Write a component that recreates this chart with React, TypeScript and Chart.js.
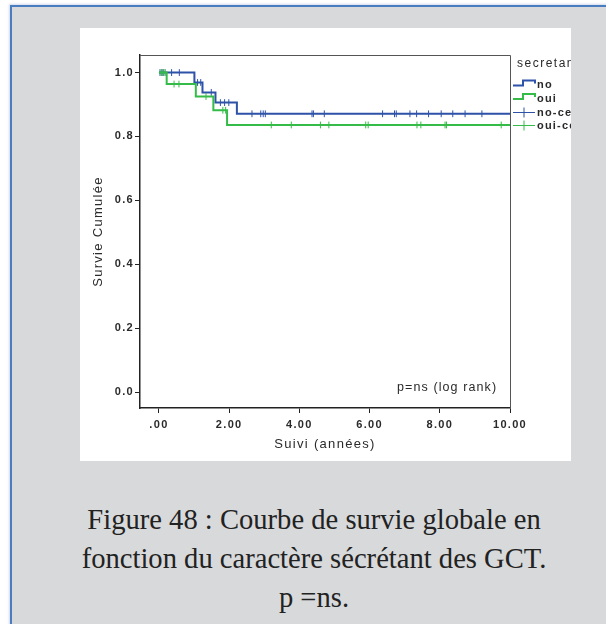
import React, { useEffect, useRef } from "react";
import { Chart, registerables } from "chart.js";

Chart.register(...registerables);

// ---- data ----
const xTickValues = [0, 2, 4, 6, 8, 10];
const xTickLabels = [".00", "2.00", "4.00", "6.00", "8.00", "10.00"];
const yTickValues = [0, 0.2, 0.4, 0.6, 0.8, 1.0];
const yTickLabels = ["0.0", "0.2", "0.4", "0.6", "0.8", "1.0"];

const noEventTimes = [0, 1.01, 1.24, 1.61, 2.22];
const noSurvival = [1.0, 0.969, 0.938, 0.906, 0.871];
const ouiEventTimes = [0, 0.22, 1.05, 1.55, 1.94];
const ouiSurvival = [1.0, 0.964, 0.925, 0.882, 0.836];

const noCensorTimes = [
  0.03, 0.09, 0.14, 0.36, 0.58, 1.1, 1.19, 1.49, 1.75, 1.87, 1.99, 2.65, 2.9,
  2.97, 3.03, 4.36, 4.4, 4.71, 6.37, 6.71, 6.76, 7.15, 7.34, 7.68, 8.04, 8.37,
  8.72, 9.2,
];
const ouiCensorTimes = [
  0.07, 0.12, 0.18, 0.43, 0.57, 1.34, 1.82, 1.9, 3.2, 3.77, 4.6, 4.84, 5.89,
  5.96, 7.35, 7.46, 8.15, 8.19, 9.75,
];
const followUpEnd = 10;

const legendTitle = "secretant";
const legendLabels = ["no", "oui", "no-censuré", "oui-censuré"];
const annotationText = "p=ns (log rank)";
const xTitle = "Suivi (années)";
const yTitle = "Survie Cumulée";
const captionLines = [
  "Figure 48 : Courbe de survie globale en",
  "fonction du caractère sécrétant des GCT.",
  "p =ns.",
];

// ---- styles ----
const BLUE = "#2d52a8";
const GREEN = "#35bb48";
const TEXT = "#2a2a2a";
const FONT = "'Liberation Sans', Arial, sans-serif";

function survivalAt(times: number[], surv: number[], t: number) {
  let s = surv[0];
  for (let i = 0; i < times.length; i++) if (times[i] <= t) s = surv[i];
  return s;
}

function stepData(times: number[], surv: number[]) {
  const pts = times.map((t, i) => ({ x: t, y: surv[i] }));
  pts.push({ x: followUpEnd, y: surv[surv.length - 1] });
  return pts;
}

function censorData(cens: number[], times: number[], surv: number[]) {
  return cens.map((t) => ({ x: t, y: survivalAt(times, surv, t) }));
}

const decorPlugin = {
  id: "decor",
  beforeDraw(chart: any) {
    chart.ctx.letterSpacing = "1.3px";
  },
  afterDraw(chart: any) {
    const { ctx, chartArea: a } = chart;
    ctx.save();
    // frame top & right
    ctx.strokeStyle = "#555";
    ctx.lineWidth = 1;
    ctx.beginPath();
    ctx.moveTo(a.left, a.top + 0.5);
    ctx.lineTo(a.right + 0.5, a.top + 0.5);
    ctx.lineTo(a.right + 0.5, a.bottom);
    ctx.stroke();

    // annotation
    ctx.letterSpacing = "1.1px";
    ctx.font = `12.5px ${FONT}`;
    ctx.fillStyle = TEXT;
    ctx.textBaseline = "middle";
    ctx.textAlign = "left";
    ctx.fillText(annotationText, a.left + 257, a.bottom - 20);

    // legend
    const x0 = a.right + 3;
    ctx.letterSpacing = "1.5px";
    ctx.font = `12px ${FONT}`;
    ctx.fillText(legendTitle, x0 + 4, a.top + 9);
    ctx.letterSpacing = "1.2px";
    ctx.font = `bold 11px ${FONT}`;
    const rows = [a.top + 29.5, a.top + 43, a.top + 57.5, a.top + 70.5];
    const cols = [BLUE, GREEN, BLUE, GREEN];
    rows.forEach((y, i) => {
      ctx.strokeStyle = cols[i];
      if (i < 2) {
        ctx.lineWidth = 2;
        ctx.beginPath();
        ctx.moveTo(x0, y + 1);
        ctx.lineTo(x0 + 10, y + 1);
        ctx.lineTo(x0 + 10, y - 4);
        ctx.lineTo(x0 + 22, y - 4);
        ctx.lineTo(x0 + 22, y - 1);
        ctx.stroke();
      } else {
        ctx.lineWidth = 1;
        ctx.beginPath();
        ctx.moveTo(x0, y);
        ctx.lineTo(x0 + 22, y);
        ctx.moveTo(x0 + 11, y - 5);
        ctx.lineTo(x0 + 11, y + 5);
        ctx.stroke();
      }
      ctx.fillStyle = TEXT;
      ctx.fillText(legendLabels[i], x0 + 24, y + 0.5);
    });
    ctx.restore();
  },
};

function KMChart() {
  const ref = useRef<HTMLCanvasElement | null>(null);
  useEffect(() => {
    if (!ref.current) return;
    const tickFont = { family: FONT, size: 11, weight: "bold" as const };
    const chart = new Chart(ref.current, {
      type: "line",
      data: {
        datasets: [
          {
            label: legendLabels[1],
            data: stepData(ouiEventTimes, ouiSurvival),
            stepped: true,
            borderColor: GREEN,
            borderWidth: 2,
            pointRadius: 0,
            fill: false,
          },
          {
            label: legendLabels[3],
            data: censorData(ouiCensorTimes, ouiEventTimes, ouiSurvival),
            showLine: false,
            pointStyle: "line",
            rotation: 90,
            pointRadius: 3.4,
            borderColor: GREEN,
            pointBorderWidth: 1,
            borderWidth: 1,
          },
          {
            label: legendLabels[0],
            data: stepData(noEventTimes, noSurvival),
            stepped: true,
            borderColor: BLUE,
            borderWidth: 2,
            pointRadius: 0,
            fill: false,
          },
          {
            label: legendLabels[2],
            data: censorData(noCensorTimes, noEventTimes, noSurvival),
            showLine: false,
            pointStyle: "line",
            rotation: 90,
            pointRadius: 3.4,
            borderColor: BLUE,
            pointBorderWidth: 1,
            borderWidth: 1,
          },
        ],
      },
      options: {
        responsive: false,
        animation: false,
        devicePixelRatio: 1,
        layout: { padding: { top: 27, right: 61, left: 0, bottom: 0 } },
        plugins: { legend: { display: false }, tooltip: { enabled: false } },
        scales: {
          x: {
            type: "linear",
            min: -0.54,
            max: 10,
            afterBuildTicks: (s: any) => {
              s.ticks = xTickValues.map((v) => ({ value: v }));
            },
            afterFit: (s: any) => {
              s.height = 53;
            },
            ticks: {
              autoSkip: false,
              maxRotation: 0,
              padding: 5,
              color: TEXT,
              font: tickFont,
              callback: (_v: any, i: number) => xTickLabels[i],
            },
            grid: {
              drawOnChartArea: false,
              drawTicks: true,
              tickLength: 5,
              color: "#222",
              lineWidth: 1,
            },
            border: { display: true, color: "#222", width: 1.5 },
            title: {
              display: true,
              text: xTitle,
              color: TEXT,
              font: { family: FONT, size: 13 },
              padding: { top: 0, bottom: 9 },
            },
          },
          y: {
            type: "linear",
            min: -0.05,
            max: 1.055,
            afterBuildTicks: (s: any) => {
              s.ticks = yTickValues.map((v) => ({ value: v }));
            },
            afterFit: (s: any) => {
              s.width = 60;
            },
            ticks: {
              autoSkip: false,
              padding: 1,
              color: TEXT,
              font: tickFont,
              callback: (_v: any, i: number) => yTickLabels[i],
            },
            grid: {
              drawOnChartArea: false,
              drawTicks: true,
              tickLength: 5,
              color: "#222",
              lineWidth: 1,
            },
            border: { display: true, color: "#222", width: 1.5 },
            title: {
              display: true,
              text: yTitle,
              color: TEXT,
              font: { family: FONT, size: 13 },
              padding: { top: 11, bottom: 0 },
            },
          },
        },
      },
      plugins: [decorPlugin],
    } as any);
    return () => chart.destroy();
  }, []);
  return <canvas ref={ref} width={491} height={433} style={{ display: "block" }} />;
}

export default function App() {
  return (
    <div
      style={{
        position: "absolute",
        left: 0,
        top: 0,
        width: 606,
        height: 624,
        overflow: "hidden",
        background: "#ffffff",
      }}
    >
      <div
        style={{
          position: "absolute",
          left: 10,
          top: 5,
          width: 640,
          height: 660,
          background: "#d8d9db",
          border: "2px solid #4a7dbf",
          boxShadow: "0 0 2px 1px rgba(120,150,200,0.35)",
        }}
      />
      <div
        style={{
          position: "absolute",
          left: 80,
          top: 28,
          width: 491,
          height: 433,
          background: "#ffffff",
        }}
      >
        <KMChart />
      </div>
      <div
        style={{
          position: "absolute",
          left: 10,
          top: 500,
          width: 608,
          textAlign: "center",
          fontFamily: "'Liberation Serif', 'Times New Roman', serif",
          fontSize: 28.6,
          lineHeight: "39px",
          color: "#222",
        }}
      >
        {captionLines.map((l, i) => (
          <div key={i}>{l}</div>
        ))}
      </div>
    </div>
  );
}
